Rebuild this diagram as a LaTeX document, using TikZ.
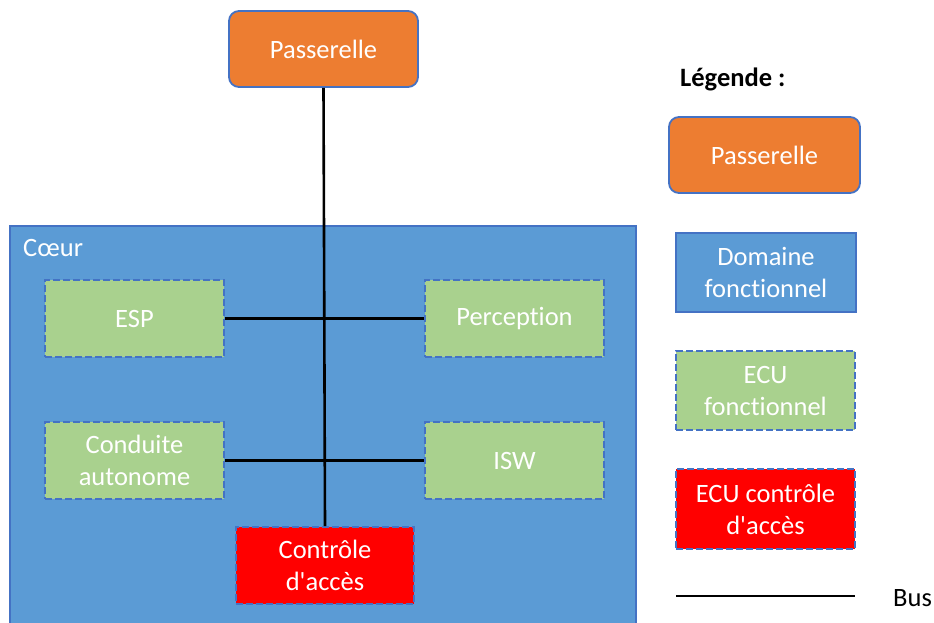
\documentclass[tikz,border=0pt]{standalone}
\usepackage{fontspec}
\setmainfont{Carlito}[Ligatures={NoCommon,TeXOff}]
\definecolor{orng}{HTML}{ED7D31}
\definecolor{dblue}{HTML}{5B9BD5}
\definecolor{bord}{HTML}{4472C4}
\definecolor{grn}{HTML}{A9D18E}
\definecolor{rd}{HTML}{FF0000}
\begin{document}
\begin{tikzpicture}[x=1pt,y=-1pt,
  txt/.style={font=\fontsize{26.5}{32}\selectfont, text=white, align=center, inner sep=0pt},
  gateway/.style={txt, draw=bord, line width=1.8pt, fill=orng, rounded corners=10pt},
  domainbox/.style={txt, draw=bord, line width=1.8pt, fill=dblue},
  ecubox/.style={txt, draw=bord, line width=1.8pt, fill=grn, dash pattern=on 7pt off 3pt},
  accbox/.style={txt, draw=bord, line width=1.8pt, fill=rd, dash pattern=on 7pt off 3pt},
  bus/.style={line width=2.6pt, black}]
\useasboundingbox (0,0) rectangle (934,623);
% Coeur
\fill[dblue] (10,226) rectangle (636,623);
\draw[bord, line width=1.8pt] (10,623) -- (10,226) -- (636,226) -- (636,623);
\node[txt, anchor=west] (coeur) at (23,248) {Cœur};
% nodes
\node[gateway, minimum width=189pt, minimum height=76pt] (pass) at (323.5,49) {Passerelle};
\node[ecubox, minimum width=179pt, minimum height=77pt] (esp) at (134.5,318.5) {ESP};
\node[ecubox, minimum width=179pt, minimum height=77pt] (perc) at (514.5,318.5) {Perception};
\node[ecubox, minimum width=179pt, minimum height=77pt] (cond) at (134.5,460.5) {Conduite\\autonome};
\node[ecubox, minimum width=179pt, minimum height=77pt] (isw) at (514.5,460.5) {ISW};
\node[accbox, minimum width=178pt, minimum height=77pt] (acc) at (325,565.5) {Contrôle\\d'accès};
% bus
\draw[bus] (pass.south) -- (acc.north);
\draw[bus] (esp.east) -- (perc.west);
\draw[bus] (cond.east) -- (isw.west);
% legend
\node[anchor=west, inner sep=0pt, font=\fontsize{26.5}{32}\selectfont\bfseries] (leg) at (680,79) {Légende :};
\node[gateway, minimum width=191pt, minimum height=76pt] (lpass) at (764.5,155) {Passerelle};
\node[domainbox, minimum width=180pt, minimum height=79pt] (ldom) at (766,272.5) {Domaine\\fonctionnel};
\node[ecubox, minimum width=179pt, minimum height=79pt] (lecu) at (765.5,390.5) {ECU\\fonctionnel};
\node[accbox, minimum width=179pt, minimum height=80pt] (lacc) at (765.5,509) {ECU contrôle\\d'accès};
\coordinate (b1) at (676,596);
\coordinate (b2) at (855,596);
\draw[bus] (b1) -- (b2);
\node[anchor=west, inner sep=0pt, font=\fontsize{26.5}{32}\selectfont] (lbus) at (893,598) {Bus};
\end{tikzpicture}
\end{document}
